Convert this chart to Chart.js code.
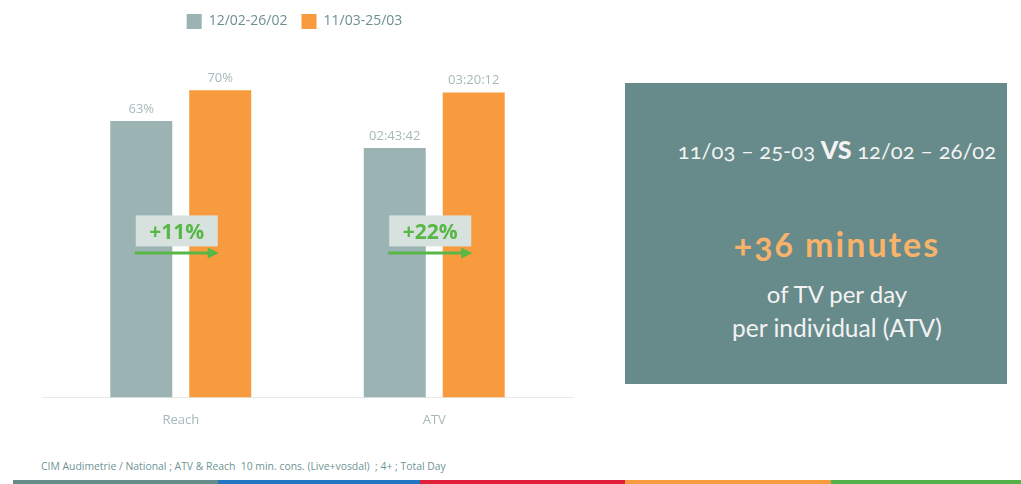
<!DOCTYPE html>
<html>
<head>
<meta charset="utf-8">
<script src="https://cdn.jsdelivr.net/npm/chart.js@4/dist/chart.umd.min.js"></script>
<style>
  html, body { margin: 0; padding: 0; background: #ffffff; }
  body { width: 1021px; height: 484px; position: relative; overflow: hidden; font-family: "Open Sans", sans-serif; }
  #wrap { position: absolute; left: 0; top: 0; width: 575px; height: 445px; }
  #panel { position: absolute; left: 625px; top: 83px; width: 382px; height: 301px; background: #668b8a; }
  .pl { position: absolute; left: 667px; width: 340px; text-align: center; white-space: nowrap; line-height: 1; font-family: Lato, "Open Sans", sans-serif; color: #f3f3f3; font-variant-numeric: oldstyle-nums; }
  #footer { position: absolute; left: 41px; top: 459px; font-size: 10.4px; color: #6e9595; white-space: pre; font-family: "Open Sans", sans-serif; }
  .strip { position: absolute; top: 480px; height: 4px; }
</style>
</head>
<body>
<div id="wrap"><canvas id="c"></canvas></div>
<div id="panel"></div>
<div class="pl" id="l1" style="top:137px;font-size:22px;">11/03 – 25-03 <b style="font-size:25px;font-weight:900;">VS</b> 12/02 – 26/02</div>
<div class="pl" id="l2" style="top:227px;font-size:34px;font-weight:bold;letter-spacing:2px;color:#f8b36b;">+36 minutes</div>
<div class="pl" id="l3" style="top:282px;font-size:24px;">of TV per day</div>
<div class="pl" id="l4" style="top:316px;font-size:24.5px;">per individual (ATV)</div>
<div id="footer">CIM Audimetrie / National ; ATV &amp; Reach  10 min. cons. (Live+vosdal)  ; 4+ ; Total Day</div>
<div class="strip" style="left:13px;width:205px;background:#668b8a;"></div>
<div class="strip" style="left:218px;width:202px;background:#1f78c1;"></div>
<div class="strip" style="left:420px;width:205px;background:#e0203a;"></div>
<div class="strip" style="left:625px;width:206px;background:#f79b3e;"></div>
<div class="strip" style="left:831px;width:190px;background:#55b24a;"></div>
<script>
// ---- data ----
const categories = ['Reach', 'ATV'];
const seriesNames = ['12/02-26/02', '11/03-25/03'];
const reachValues = [63, 70];                 // percent
const reachLabels = ['63%', '70%'];
const atvLabels = ['02:43:42', '03:20:12'];   // hh:mm:ss
const changeLabels = ['+11%', '+22%'];
const seriesColors = ['#9bb3b3', '#f79b3e'];

function toSeconds(s) { const p = s.split(':').map(Number); return p[0] * 3600 + p[1] * 60 + p[2]; }
const atvSeconds = atvLabels.map(toSeconds);

const datasets = [
  { label: seriesNames[0], data: [reachValues[0], null], yAxisID: 'y', backgroundColor: seriesColors[0], valueText: [reachLabels[0], null] },
  { label: seriesNames[1], data: [reachValues[1], null], yAxisID: 'y', backgroundColor: seriesColors[1], valueText: [reachLabels[1], null] },
  { label: seriesNames[0], data: [null, atvSeconds[0]], yAxisID: 'y2', backgroundColor: seriesColors[0], valueText: [null, atvLabels[0]] },
  { label: seriesNames[1], data: [null, atvSeconds[1]], yAxisID: 'y2', backgroundColor: seriesColors[1], valueText: [null, atvLabels[1]] }
];

const extras = {
  id: 'extras',
  beforeDatasetsDraw(chart) {
    const ctx = chart.ctx, a = chart.chartArea;
    ctx.save();
    ctx.strokeStyle = '#e4e9e9';
    ctx.lineWidth = 1;
    ctx.beginPath();
    ctx.moveTo(42, Math.round(a.bottom) + 0.5);
    ctx.lineTo(574, Math.round(a.bottom) + 0.5);
    ctx.stroke();
    ctx.restore();
  },
  afterDatasetsDraw(chart) {
    const ctx = chart.ctx, a = chart.chartArea;
    ctx.save();
    ctx.font = '13px "Open Sans"';
    ctx.fillStyle = '#a6b9b9';
    ctx.textAlign = 'center';
    ctx.textBaseline = 'alphabetic';
    chart.data.datasets.forEach((ds, di) => {
      const meta = chart.getDatasetMeta(di);
      meta.data.forEach((bar, i) => {
        if (ds.valueText[i] == null) return;
        ctx.fillText(ds.valueText[i], bar.x, bar.y - 8);
      });
    });
    const xs = chart.scales.x;
    changeLabels.forEach((t, i) => {
      const cx = xs.getPixelForValue(i);
      const top = a.bottom - 182;
      ctx.fillStyle = '#d7e2df';
      ctx.fillRect(cx - 45, top, 82, 31);
      ctx.fillStyle = '#58b746';
      ctx.font = 'bold 21px "Open Sans"';
      ctx.textAlign = 'center';
      ctx.fillText(t, cx - 4, top + 24);
      const ay = a.bottom - 144.5;
      ctx.strokeStyle = '#58b746';
      ctx.lineWidth = 3;
      ctx.beginPath();
      ctx.moveTo(cx - 46, ay);
      ctx.lineTo(cx + 29, ay);
      ctx.stroke();
      ctx.beginPath();
      ctx.moveTo(cx + 38, ay);
      ctx.lineTo(cx + 27, ay - 5.5);
      ctx.lineTo(cx + 27, ay + 5.5);
      ctx.closePath();
      ctx.fill();
    });
    ctx.restore();
  }
};

new Chart(document.getElementById('c'), {
  type: 'bar',
  data: { labels: categories, datasets },
  options: {
    responsive: true,
    maintainAspectRatio: false,
    animation: false,
    skipNull: true,
    categoryPercentage: 0.623,
    barPercentage: 0.785,
    layout: { padding: { left: 28, right: 14, top: 0, bottom: 10 } },
    plugins: {
      legend: {
        position: 'top',
        labels: {
          filter: (item) => item.datasetIndex < 2,
          boxWidth: 15, boxHeight: 15, padding: 14,
          color: '#6e8f8f',
          font: { family: '"Open Sans"', size: 14 }
        },
        onClick: null
      },
      tooltip: { enabled: false }
    },
    scales: {
      x: {
        grid: { display: false },
        border: { display: false },
        ticks: { color: '#a6b9b9', font: { family: '"Open Sans"', size: 13 }, padding: 7 }
      },
      y: {
        position: 'left', min: 0, max: 81.7,
        grid: { display: false }, border: { display: false },
        ticks: { display: false },
        afterFit: (s) => { s.width = 26; }
      },
      y2: {
        position: 'right', min: 0, max: 14118, display: false
      }
    }
  },
  plugins: [extras]
});
</script>
</body>
</html>
